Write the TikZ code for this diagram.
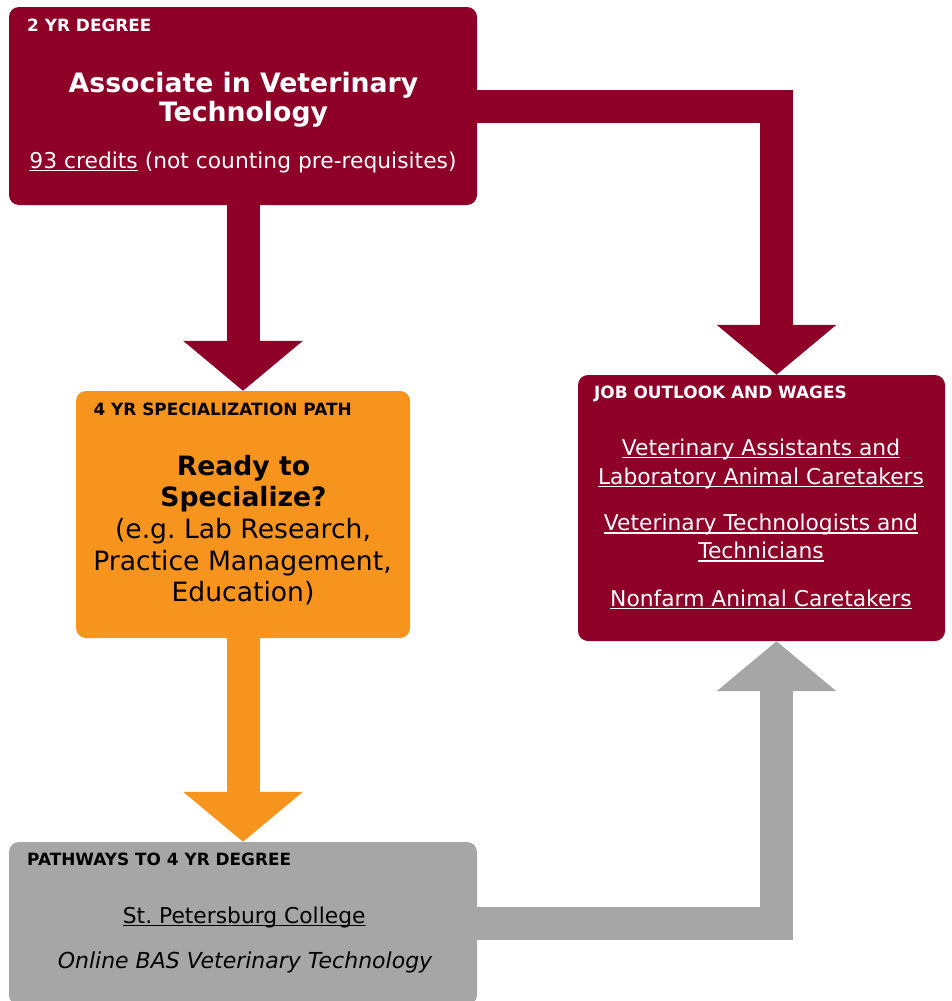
\documentclass[tikz,border=0pt]{standalone}
\usepackage{fontspec}
\setmainfont{DejaVu Sans}
\usetikzlibrary{arrows.meta,calc}
\definecolor{maroon}{RGB}{142,0,40}
\definecolor{vorange}{RGB}{247,148,30}
\definecolor{vgray}{RGB}{166,166,166}
\newsavebox\lnkbox
\newcommand\lnk[1]{\sbox\lnkbox{#1}\rlap{\rule[-3pt]{\wd\lnkbox}{1.3pt}}\usebox\lnkbox}
\frenchspacing
\begin{document}
\begin{tikzpicture}[x=1pt,y=-1pt,
  box/.style={rectangle, rounded corners=10pt, inner sep=0pt, draw=none},
  hdr/.style={anchor=base west, inner sep=0pt, font=\fontsize{16.9}{19}\selectfont\bfseries},
  ln/.style={anchor=base, inner sep=0pt},
  body/.style={ln, font=\fontsize{21.8}{29}\selectfont},
  ttl/.style={ln, font=\fontsize{26.7}{30}\selectfont\bfseries},
  big/.style={ln, font=\fontsize{26.6}{31}\selectfont},
  bigb/.style={ln, font=\fontsize{26.6}{31}\selectfont\bfseries},
  barrow/.style={line width=33pt, -{Triangle[width=117pt,length=50pt]}}]
\clip (0,0) rectangle (952,1001);
% boxes
\node[box, fill=maroon, minimum width=468pt, minimum height=198pt] (deg2) at (243,106) {};
\node[box, fill=vorange, minimum width=334pt, minimum height=247pt] (spec) at (243,514.5) {};
\node[box, fill=maroon, minimum width=367pt, minimum height=266pt] (job) at (761.5,508) {};
\node[box, fill=vgray, minimum width=468pt, minimum height=163pt] (path) at (243,923.5) {};
% connectors
\draw[barrow, maroon] (deg2.south) -- (spec.north);
\draw[barrow, maroon] (deg2.east) -| ($(job.north)+(15,0)$);
\draw[barrow, vorange] (spec.south) -- (path.north);
\draw[barrow, vgray] (path.east) -| ($(job.south)+(15,0)$);
% texts: 2 yr degree
\node[hdr, text=white] (deg2h) at (27,31) {2 YR DEGREE};
\node[ttl, text=white] (deg2t1) at (243.5,92) {Associate in Veterinary};
\node[ttl, text=white] (deg2t2) at (243.5,121.7) {Technology};
\node[body, text=white] (deg2c) at (243,168) {\lnk{93 credits} (not counting pre-requisites)};
% specialization
\node[hdr, text=black] (spech) at (93.3,415) {4 YR SPECIALIZATION PATH};
\node[bigb] (spec1) at (243.5,475) {Ready to};
\node[bigb] (spec2) at (243.5,506.7) {Specialize?};
\node[big] (spec3) at (243,538.3) {(e.g. Lab Research,};
\node[big] (spec4) at (242.5,570) {Practice Management,};
\node[big] (spec5) at (243,601.7) {Education)};
% job
\node[hdr, text=white] (jobh) at (594,398.3) {JOB OUTLOOK AND WAGES};
\node[body, text=white] (job1) at (761,455) {\lnk{Veterinary Assistants and}};
\node[body, text=white] (job2) at (761,484) {\lnk{Laboratory Animal Caretakers}};
\node[body, text=white] (job3) at (761,530.7) {\lnk{Veterinary Technologists and}};
\node[body, text=white] (job4) at (761,558.7) {\lnk{Technicians}};
\node[body, text=white] (job5) at (761,606) {\lnk{Nonfarm Animal Caretakers}};
% pathways
\node[hdr, text=black] (pathh) at (27,865) {PATHWAYS TO 4 YR DEGREE};
\node[body] (path1) at (244.2,923.3) {\lnk{St. Petersburg College}};
\node[body, font=\fontsize{22}{29}\selectfont\itshape] (path2) at (245,968.3) {Online BAS Veterinary Technology};
\end{tikzpicture}
\end{document}
